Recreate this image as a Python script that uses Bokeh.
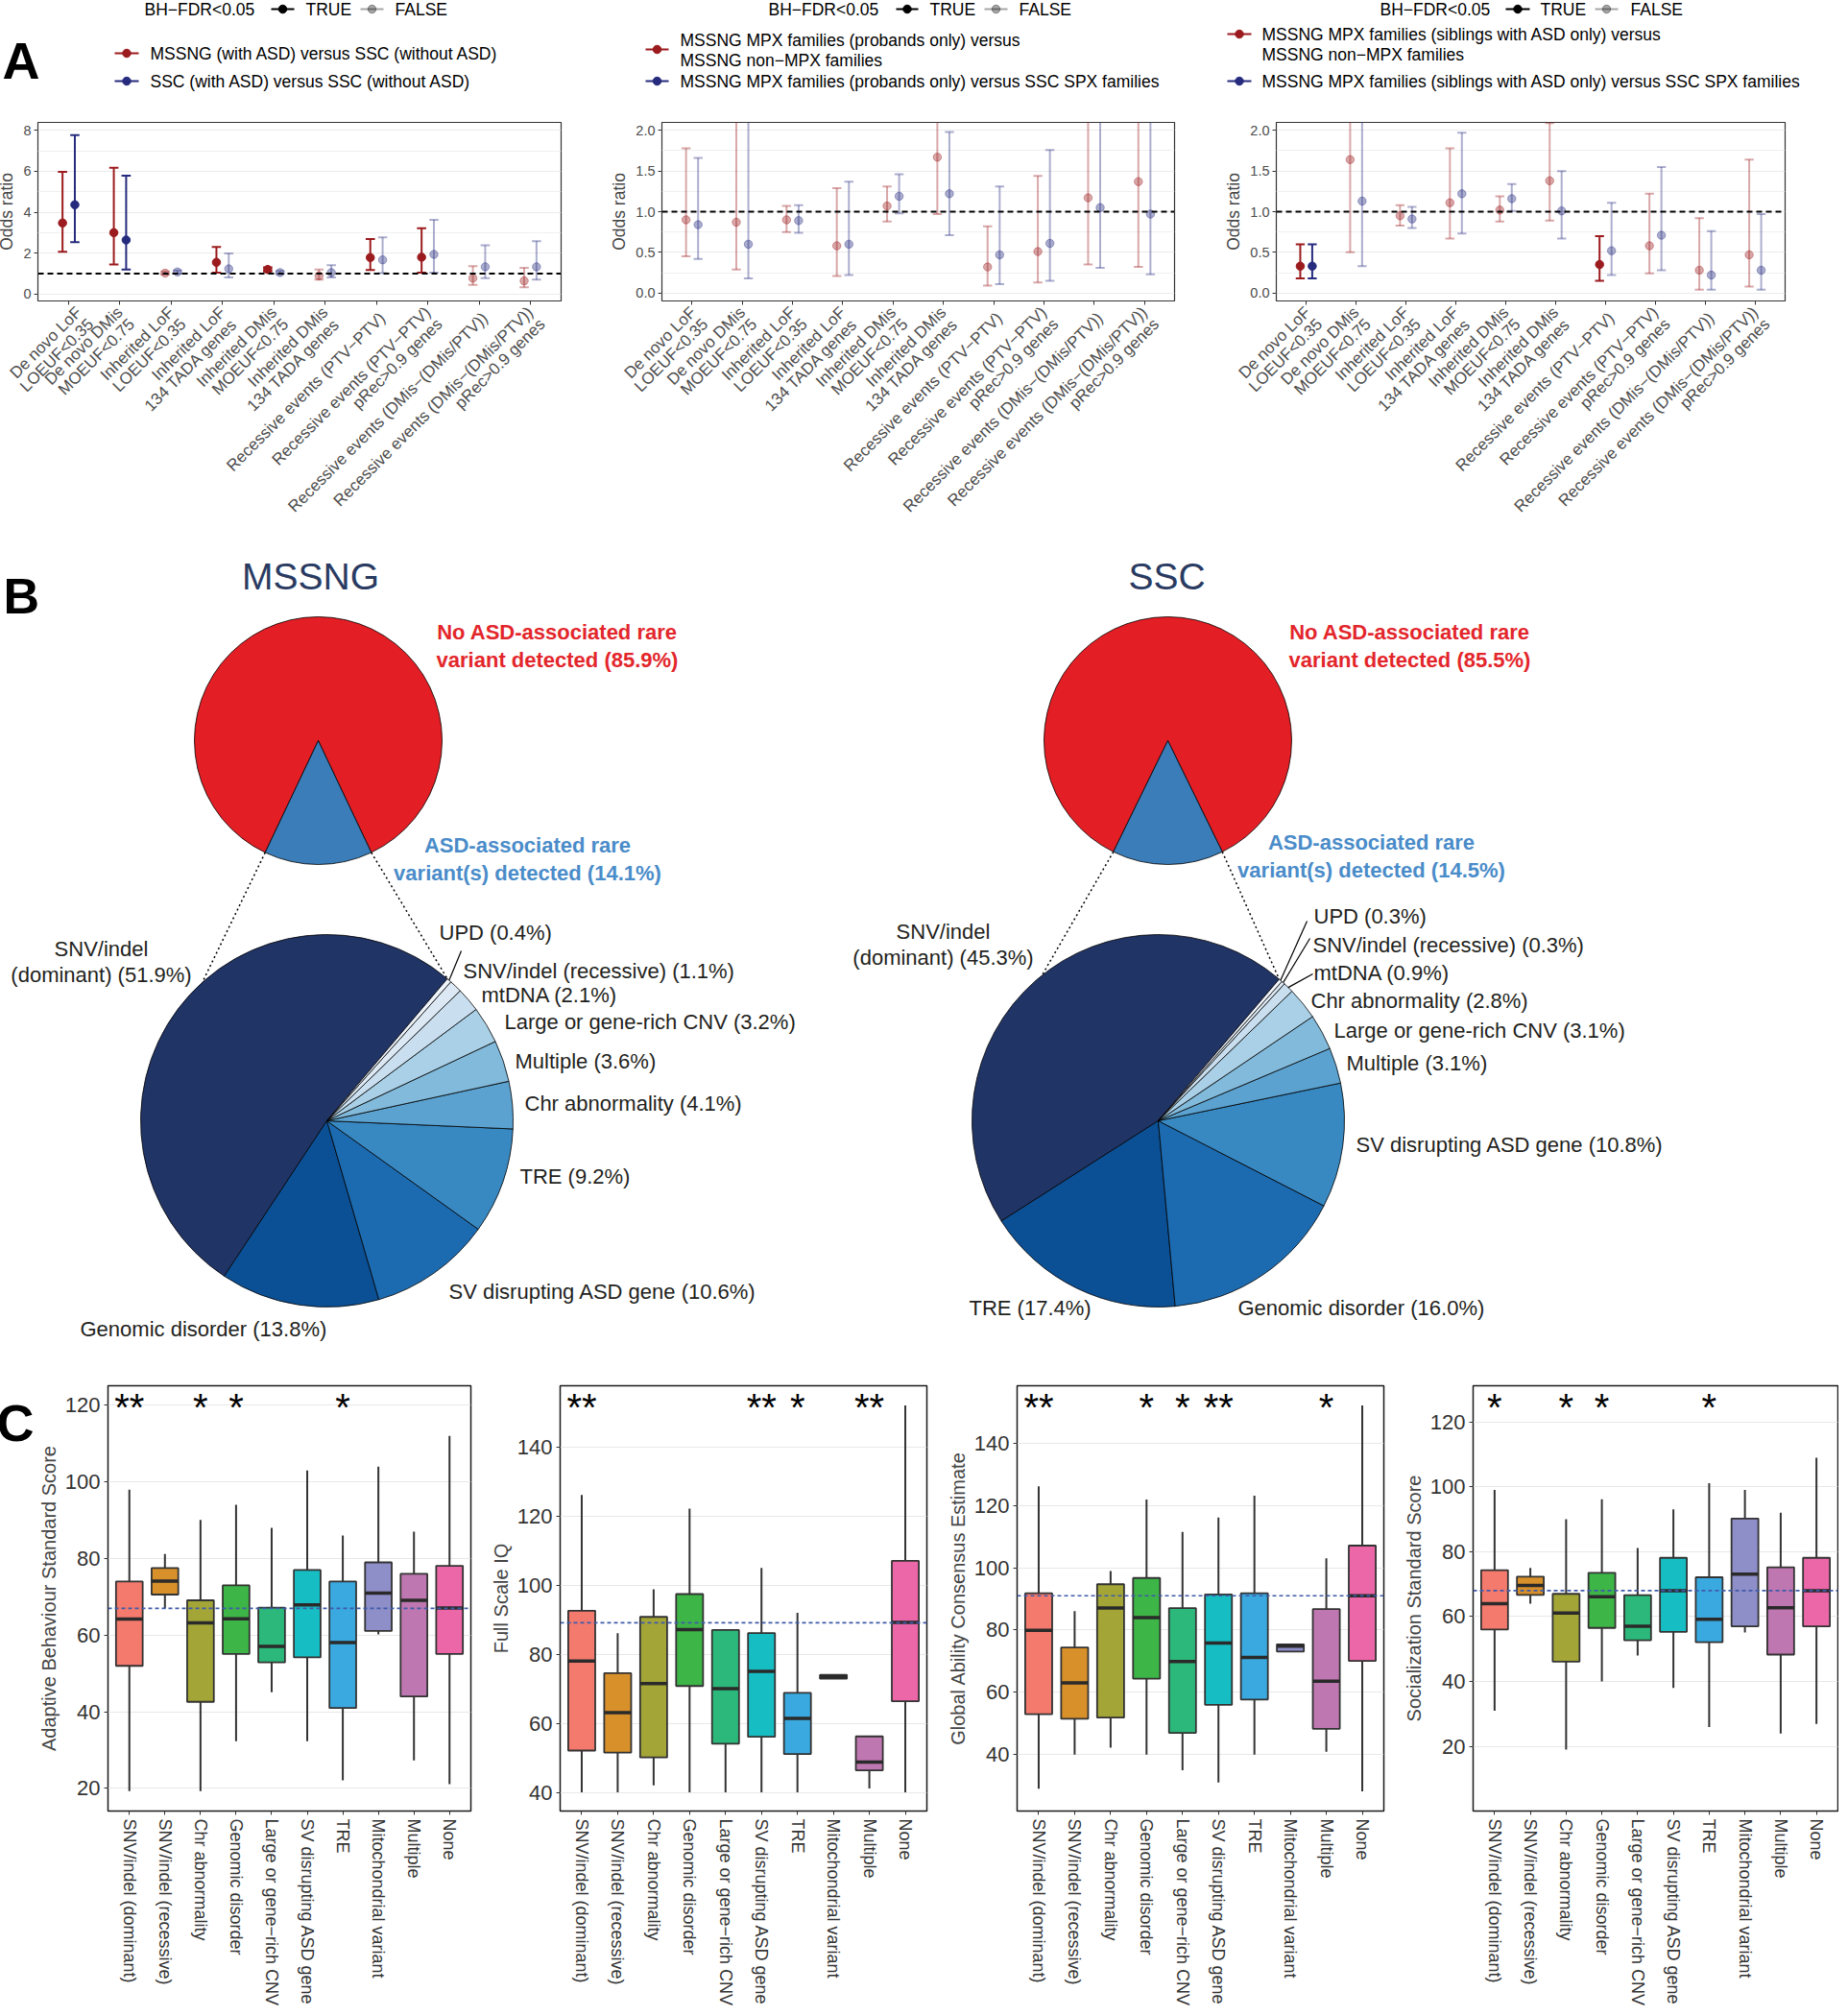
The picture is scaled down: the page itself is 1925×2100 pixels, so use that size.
import math
from bokeh.plotting import figure
from bokeh.layouts import row, column
from bokeh.models import Range1d, FixedTicker, Span, ColumnDataSource, NumeralTickFormatter
from bokeh.core.properties import value
from bokeh.embed import file_html
from bokeh.resources import INLINE

FONT = "Liberation Sans"
INK = "#231F20"
RED = "#9B1B1E"
BLUE = "#262B7D"

# ======================= Panel A data =======================
a_categories = [
    "De novo LoF\nLOEUF<0.35",
    "De novo DMis\nMOEUF<0.75",
    "Inherited LoF\nLOEUF<0.35",
    "Inherited LoF\n134 TADA genes",
    "Inherited DMis\nMOEUF<0.75",
    "Inherited DMis\n134 TADA genes",
    "Recessive events (PTV\u2212PTV)",
    "Recessive events (PTV\u2212PTV)\npRec>0.9 genes",
    "Recessive events (DMis\u2212(DMis/PTV))",
    "Recessive events (DMis\u2212(DMis/PTV))\npRec>0.9 genes",
]
a_legend_title = "BH\u2212FDR<0.05"
a_sig_levels = ["TRUE", "FALSE"]

a1_series = ["MSSNG (with ASD) versus SSC (without ASD)",
             "SSC (with ASD) versus SSC (without ASD)"]
a1_red_or = [3.47, 3.00, 1.02, 1.55, 1.20, 0.89, 1.78, 1.80, 0.77, 0.64]
a1_red_lo = [2.06, 1.44, 0.95, 1.05, 1.10, 0.70, 1.17, 1.05, 0.45, 0.33]
a1_red_hi = [5.97, 6.17, 1.10, 2.30, 1.30, 1.20, 2.69, 3.22, 1.36, 1.28]
a1_red_sig = [True, True, False, True, True, False, True, True, False, False]
a1_blue_or = [4.36, 2.64, 1.08, 1.23, 1.05, 1.05, 1.67, 1.94, 1.33, 1.33]
a1_blue_lo = [2.53, 1.20, 1.00, 0.81, 0.98, 0.81, 1.02, 1.05, 0.77, 0.70]
a1_blue_hi = [7.77, 5.78, 1.15, 1.98, 1.13, 1.41, 2.77, 3.63, 2.38, 2.58]
a1_blue_sig = [True, True, False, False, False, False, False, False, False, False]

a2_series = ["MSSNG MPX families (probands only) versus\nMSSNG non\u2212MPX families",
             "MSSNG MPX families (probands only) versus SSC SPX families"]
a2_red_or = [0.90, 0.87, 0.90, 0.58, 1.07, 1.67, 0.32, 0.51, 1.17, 1.37]
a2_red_lo = [0.45, 0.29, 0.75, 0.21, 0.88, 0.97, 0.09, 0.13, 0.35, 0.32]
a2_red_hi = [1.78, 2.60, 1.07, 1.29, 1.31, 2.40, 0.82, 1.44, 3.10, 3.50]
a2_red_sig = [False] * 10
a2_blue_or = [0.84, 0.60, 0.89, 0.60, 1.19, 1.22, 0.47, 0.61, 1.05, 0.97]
a2_blue_lo = [0.42, 0.18, 0.74, 0.22, 0.98, 0.71, 0.11, 0.15, 0.31, 0.23]
a2_blue_hi = [1.66, 2.90, 1.08, 1.37, 1.46, 1.98, 1.31, 1.76, 2.80, 3.20]
a2_blue_sig = [False] * 10

a3_series = ["MSSNG MPX families (siblings with ASD only) versus\nMSSNG non\u2212MPX families",
             "MSSNG MPX families (siblings with ASD only) versus SSC SPX families"]
a3_red_or = [0.33, 1.64, 0.95, 1.11, 1.02, 1.38, 0.35, 0.58, 0.28, 0.47]
a3_red_lo = [0.18, 0.50, 0.83, 0.67, 0.88, 0.89, 0.15, 0.24, 0.04, 0.08]
a3_red_hi = [0.60, 2.70, 1.08, 1.78, 1.19, 2.09, 0.70, 1.22, 0.92, 1.64]
a3_red_sig = [True, False, False, False, False, False, True, False, False, False]
a3_blue_or = [0.33, 1.13, 0.91, 1.22, 1.16, 1.01, 0.52, 0.71, 0.22, 0.28]
a3_blue_lo = [0.18, 0.33, 0.80, 0.73, 1.01, 0.67, 0.22, 0.28, 0.04, 0.04]
a3_blue_hi = [0.60, 3.00, 1.06, 1.97, 1.34, 1.50, 1.11, 1.55, 0.76, 0.97]
a3_blue_sig = [True, False, False, False, False, False, False, False, False, False]

# ======================= Panel B data =======================
b_cohorts = ["MSSNG", "SSC"]
b_top_labels = ["No ASD-associated rare\nvariant detected", "ASD-associated rare\nvariant(s) detected"]
mssng_top = [85.9, 14.1]
ssc_top = [85.5, 14.5]
mssng_classes = ["SNV/indel (dominant)", "Genomic disorder", "SV disrupting ASD gene", "TRE",
                 "Chr abnormality", "Multiple", "Large or gene-rich CNV", "mtDNA",
                 "SNV/indel (recessive)", "UPD"]
mssng_pct = [51.9, 13.8, 10.6, 9.2, 4.1, 3.6, 3.2, 2.1, 1.1, 0.4]
ssc_classes = ["SNV/indel (dominant)", "TRE", "Genomic disorder", "SV disrupting ASD gene",
               "Multiple", "Large or gene-rich CNV", "Chr abnormality", "mtDNA",
               "SNV/indel (recessive)", "UPD"]
ssc_pct = [45.3, 17.4, 16.0, 10.8, 3.1, 3.1, 2.8, 0.9, 0.3, 0.3]

# ======================= Panel C data =======================
c_categories = ["SNV/indel (dominant)", "SNV/indel (recessive)", "Chr abnormality",
                "Genomic disorder", "Large or gene\u2212rich CNV", "SV disrupting ASD gene",
                "TRE", "Mitochondrial variant", "Multiple", "None"]
c_titles = ["Adaptive Behaviour Standard Score", "Full Scale IQ",
            "Global Ability Consensus Estimate", "Socialization Standard Score"]

c1_low = [19.3, 67.0, 19.3, 32.3, 45.1, 32.3, 22.1, 60.2, 27.3, 21.1]
c1_q1 = [52.0, 70.6, 42.6, 55.1, 52.9, 54.2, 41.0, 61.1, 44.0, 55.1]
c1_med = [64.2, 74.1, 63.2, 64.3, 57.1, 67.9, 58.1, 71.0, 69.1, 67.1]
c1_q3 = [74.0, 77.5, 69.1, 73.0, 67.2, 77.0, 74.0, 79.0, 76.0, 78.1]
c1_high = [98.0, 81.2, 90.1, 94.0, 88.0, 103.0, 86.0, 104.0, 87.0, 112.0]
c1_ref = 67.0
c1_stars = ["**", "", "*", "*", "", "", "*", "", "", ""]

c2_low = [40.1, 40.1, 42.1, 40.1, 40.1, 40.1, 40.1, 73.0, 41.2, 40.1]
c2_q1 = [52.2, 51.6, 50.2, 70.9, 54.2, 56.2, 51.2, 73.0, 46.5, 66.5]
c2_med = [78.1, 63.2, 71.6, 87.2, 70.1, 75.1, 61.5, 73.6, 48.9, 89.3]
c2_q3 = [92.7, 74.6, 90.9, 97.5, 87.1, 86.2, 68.9, 74.1, 56.3, 107.1]
c2_high = [126.2, 86.2, 98.9, 122.2, 87.1, 105.1, 92.1, 74.1, 56.3, 152.1]
c2_ref = 89.2
c2_stars = ["**", "", "", "", "", "**", "*", "", "**", ""]

c3_low = [29.1, 40.0, 42.2, 40.0, 35.0, 31.1, 40.0, 73.1, 40.9, 28.2]
c3_q1 = [53.0, 51.5, 51.9, 64.4, 47.0, 56.0, 57.7, 73.1, 48.3, 70.1]
c3_med = [79.9, 63.0, 87.1, 84.0, 69.9, 75.8, 71.2, 74.8, 63.6, 91.0]
c3_q3 = [91.8, 74.4, 94.7, 96.7, 87.0, 91.4, 91.8, 75.4, 86.7, 107.1]
c3_high = [126.1, 86.1, 98.9, 121.9, 111.5, 116.1, 123.1, 75.6, 103.0, 152.1]
c3_ref = 91.0
c3_stars = ["**", "", "", "*", "*", "**", "", "", "*", ""]

c4_low = [31.0, 64.0, 19.0, 40.0, 48.0, 38.0, 26.0, 55.1, 24.0, 26.9]
c4_q1 = [56.0, 66.7, 46.1, 56.5, 52.7, 55.3, 52.1, 57.0, 48.3, 57.0]
c4_med = [64.0, 69.6, 61.1, 66.1, 57.0, 68.0, 59.2, 73.1, 62.7, 68.0]
c4_q3 = [74.3, 72.3, 67.0, 73.5, 66.6, 78.1, 72.1, 90.2, 75.2, 78.1]
c4_high = [99.0, 75.0, 90.0, 96.1, 81.1, 93.0, 101.1, 99.0, 92.0, 108.9]
c4_ref = 68.0
c4_stars = ["*", "", "*", "*", "", "", "*", "", "", ""]

# ======================= styles =======================
c_colors = ["#F47A6E", "#D8902A", "#A3A537", "#3EB547", "#2CB87A",
            "#16BEC4", "#3AA9E0", "#8E8EC8", "#BE77B0", "#EC67A8"]
b_blues = ["#213466", "#0B4F94", "#1C6BB0", "#3888C2", "#5BA2D0",
           "#82BADB", "#A9D0E6", "#C9DFF0", "#DCE9F5", "#EEF4FB"]


def canvas(w, h, y_top):
    p = figure(width=w, height=h, x_range=Range1d(0, w), y_range=Range1d(y_top + h, y_top),
               x_axis_location=None, y_axis_location=None, min_border=0,
               toolbar_location=None, output_backend="svg")
    p.grid.visible = False
    p.outline_line_color = None
    return p


def txt(p, x, y, s, size, color="black", align="left", baseline="middle", style="normal"):
    p.text(x=[x], y=[y], text=[s], text_font=value(FONT), text_font_size=size,
           text_color=color, text_align=align, text_baseline=baseline, text_font_style=style)


# ======================= Legend strip (panel A keys) =======================
leg = canvas(1925, 100, 0)
txt(leg, 10, 62, "A", "54px", baseline="alphabetic", style="bold")
legend_layout = [
    dict(title_x=158, tseg=(290, 314), tx=326, fseg=(383, 407), fx=419,
         key=(127, 152), red_y=55, red_lines=[55], blue_y=84, text_x=164),
    dict(title_x=808, tseg=(941, 964), tx=976, fseg=(1033, 1057), fx=1069,
         key=(680, 704), red_y=51, red_lines=[41, 62], blue_y=84, text_x=716),
    dict(title_x=1445, tseg=(1576, 1601), tx=1612, fseg=(1669, 1693), fx=1706,
         key=(1286, 1311), red_y=35, red_lines=[35, 56], blue_y=84, text_x=1322),
]
for lay, names in zip(legend_layout, [a1_series, a2_series, a3_series]):
    txt(leg, lay["title_x"], 9, a_legend_title, "17.5px")
    for (x0, x1), tx, lab, alpha in ((lay["tseg"], lay["tx"], a_sig_levels[0], 1.0),
                                    (lay["fseg"], lay["fx"], a_sig_levels[1], 0.35)):
        leg.segment([x0], [9], [x1], [9], line_color="black", line_alpha=alpha, line_width=2)
        leg.scatter([(x0 + x1) / 2], [9], size=8.5, color="black", alpha=alpha)
        txt(leg, tx, 9, lab, "17.5px")
    k0, k1 = lay["key"]
    for col, ky in ((RED, lay["red_y"]), (BLUE, lay["blue_y"])):
        leg.segment([k0], [ky], [k1], [ky], line_color=col, line_width=2)
        leg.scatter([(k0 + k1) / 2], [ky], size=8.5, color=col)
    for line, ly in zip(names[0].split("\n"), lay["red_lines"]):
        txt(leg, lay["text_x"], ly, line, "17.5px")
    txt(leg, lay["text_x"], lay["blue_y"], names[1], "17.5px")


# ======================= Panel A plots =======================
def or_panel(width, left, right, yr, yticks, minor, red, blue, decimals):
    p = figure(width=width, height=475, min_border_left=left, min_border_right=right,
               min_border_top=27, min_border_bottom=262, x_range=Range1d(0.4, 10.6),
               y_range=Range1d(*yr), toolbar_location=None, output_backend="svg")
    for series, col, off in ((red, RED, -0.12), (blue, BLUE, 0.12)):
        o, lo, hi, sig = series
        xs = [i + 1 + off for i in range(len(o))]
        src = ColumnDataSource(dict(x=xs, o=o, lo=lo, hi=hi,
                                    a=[1.0 if s else 0.38 for s in sig],
                                    x0=[x - 0.09 for x in xs], x1=[x + 0.09 for x in xs]))
        p.segment("x", "lo", "x", "hi", source=src, line_color=col, line_alpha="a", line_width=2)
        p.segment("x0", "lo", "x1", "lo", source=src, line_color=col, line_alpha="a", line_width=2)
        p.segment("x0", "hi", "x1", "hi", source=src, line_color=col, line_alpha="a", line_width=2)
        p.scatter("x", "o", source=src, size=8.5, fill_color=col, line_color=col,
                  fill_alpha="a", line_alpha="a")
    p.add_layout(Span(location=1, dimension="width", line_color="black",
                      line_dash="6 4", line_width=2))
    p.yaxis.ticker = FixedTicker(ticks=yticks, minor_ticks=minor)
    if decimals:
        p.yaxis.formatter = NumeralTickFormatter(format="0.0")
    p.xaxis.ticker = FixedTicker(ticks=list(range(1, 11)))
    # a leading empty line hangs each rotated label below its tick, as ggplot's vjust=1 does
    p.xaxis.major_label_overrides = {i + 1: "\n" + c for i, c in enumerate(a_categories)}
    p.xaxis.major_label_orientation = math.pi / 4
    p.xaxis.major_label_text_font_size = "17px"
    p.xaxis.major_label_text_line_height = 0.92
    p.yaxis.major_label_text_font_size = "14.5px"
    p.axis.major_label_text_font = FONT
    p.axis.major_label_text_color = "#4D4D4D"
    p.axis.axis_line_color = None
    p.axis.major_tick_line_color = "#333333"
    p.axis.major_tick_out = 4
    p.axis.major_tick_in = 0
    p.axis.minor_tick_line_color = None
    p.xaxis.major_label_standoff = 5
    p.yaxis.major_label_standoff = 3
    p.yaxis.axis_label = "Odds ratio"
    p.yaxis.axis_label_text_font = FONT
    p.yaxis.axis_label_text_font_style = "normal"
    p.yaxis.axis_label_text_font_size = "17.5px"
    p.yaxis.axis_label_standoff = 4
    p.xgrid.visible = False
    p.ygrid.grid_line_color = "#EBEBEB"
    p.ygrid.minor_grid_line_color = "#F0F0F0"
    p.outline_line_color = "#333333"
    p.outline_line_width = 1.2
    return p


a1 = or_panel(640, 47, 48, (-0.34, 8.39), [0, 2, 4, 6, 8], [1, 3, 5, 7],
              (a1_red_or, a1_red_lo, a1_red_hi, a1_red_sig),
              (a1_blue_or, a1_blue_lo, a1_blue_hi, a1_blue_sig), False)
a2 = or_panel(640, 57, 49, (-0.098, 2.098), [0, 0.5, 1, 1.5, 2], [0.25, 0.75, 1.25, 1.75],
              (a2_red_or, a2_red_lo, a2_red_hi, a2_red_sig),
              (a2_blue_or, a2_blue_lo, a2_blue_hi, a2_blue_sig), True)
a3 = or_panel(645, 53, 58, (-0.098, 2.098), [0, 0.5, 1, 1.5, 2], [0.25, 0.75, 1.25, 1.75],
              (a3_red_or, a3_red_lo, a3_red_hi, a3_red_sig),
              (a3_blue_or, a3_blue_lo, a3_blue_hi, a3_blue_sig), True)

# ======================= Panel B =======================
pb = canvas(1925, 855, 575)
txt(pb, 11, 620, "B", "52px", baseline="alphabetic", style="bold")

pie_layout = [
    dict(title=(331, 600), top=(339, 771, 129), bot=(348, 1167, 194), start=49.7,
         red_lab=(588, 658, 687), blue_lab=(557, 880, 909), dot_left=132.0,
         labels={
             "SNV/indel (dominant)": (113, 988, "center"),
             "UPD": (465, 971, "left"),
             "SNV/indel (recessive)": (490, 1011, "left"),
             "mtDNA": (509, 1036, "left"),
             "Large or gene-rich CNV": (533, 1064, "left"),
             "Multiple": (544, 1105, "left"),
             "Chr abnormality": (554, 1149, "left"),
             "TRE": (549, 1225, "left"),
             "SV disrupting ASD gene": (475, 1345, "left"),
             "Genomic disorder": (91, 1384, "left"),
         },
         leaders={"UPD": (488, 990)}),
    dict(title=(1223, 600), top=(1224, 771, 129), bot=(1214, 1167, 194), start=49.5,
         red_lab=(1476, 658, 687), blue_lab=(1436, 877, 906), dot_left=128.6,
         labels={
             "SNV/indel (dominant)": (990, 970, "center"),
             "UPD": (1376, 954, "left"),
             "SNV/indel (recessive)": (1375, 984, "left"),
             "mtDNA": (1376, 1013, "left"),
             "Chr abnormality": (1373, 1042, "left"),
             "Large or gene-rich CNV": (1397, 1073, "left"),
             "Multiple": (1410, 1107, "left"),
             "SV disrupting ASD gene": (1420, 1192, "left"),
             "Genomic disorder": (1297, 1362, "left"),
             "TRE": (1017, 1362, "left"),
         },
         leaders={"UPD": (1369, 959), "SNV/indel (recessive)": (1372, 977),
                  "mtDNA": (1375, 1014)}),
]


def pt(cx, cy, r, deg):
    return cx + r * math.cos(math.radians(deg)), cy - r * math.sin(math.radians(deg))


for name, lay, top, classes, pcts in zip(b_cohorts, pie_layout, [mssng_top, ssc_top],
                                         [mssng_classes, ssc_classes], [mssng_pct, ssc_pct]):
    txt(pb, lay["title"][0], lay["title"][1], name, "39px", color="#2A3B62", align="center")
    tx, ty, tr = lay["top"]
    half = top[1] / sum(top) * 180.0
    a0, a1_ = 270 - half, 270 + half
    pb.wedge(x=[tx, tx], y=[ty, ty], radius=tr,
             start_angle=[math.radians(a1_), math.radians(a0)],
             end_angle=[math.radians(a0 + 360), math.radians(a1_)],
             direction="anticlock", fill_color=["#E31E24", "#3A7DB9"],
             line_color="black", line_width=0.8)
    rl = lay["red_lab"]
    l1, l2 = b_top_labels[0].split("\n")
    txt(pb, rl[0], rl[1], l1, "22px", color="#E3262B", align="center", style="bold")
    txt(pb, rl[0], rl[2], f"{l2} ({top[0]:.1f}%)", "22px", color="#E3262B", align="center", style="bold")
    bl = lay["blue_lab"]
    l1, l2 = b_top_labels[1].split("\n")
    txt(pb, bl[0], bl[1], l1, "22px", color="#4A8CC9", align="center", style="bold")
    txt(pb, bl[0], bl[2], f"{l2} ({top[1]:.1f}%)", "22px", color="#4A8CC9", align="center", style="bold")

    bx, by, br = lay["bot"]
    tot = sum(pcts)
    starts, ends, mids = [], [], []
    a = lay["start"]
    for v in pcts:
        e = a + v / tot * 360.0
        starts.append(math.radians(a))
        ends.append(math.radians(e))
        mids.append((a + e) / 2)
        a = e
    pb.wedge(x=[bx] * len(pcts), y=[by] * len(pcts), radius=br, start_angle=starts,
             end_angle=ends, direction="anticlock", fill_color=b_blues[:len(pcts)],
             line_color="black", line_width=0.8)

    p_l = pt(tx, ty, tr, a0)
    p_r = pt(tx, ty, tr, a1_)
    q_l = pt(bx, by, br, lay["dot_left"])
    q_r = pt(bx, by, br, lay["start"])
    pb.segment([p_l[0], p_r[0]], [p_l[1], p_r[1]], [q_l[0], q_r[0]], [q_l[1], q_r[1]],
               line_color="black", line_dash="2 3", line_width=1.5)

    for cls, v, m in zip(classes, pcts, mids):
        x, y, al = lay["labels"][cls]
        label = f"{cls} ({v:.1f}%)"
        if cls == "SNV/indel (dominant)":
            first, rest = label.split(" ", 1)
            txt(pb, x, y, first, "22px", color=INK, align=al)
            txt(pb, x, y + 27, rest, "22px", color=INK, align=al)
        else:
            txt(pb, x, y, label, "22px", color=INK, align=al)
        if cls in lay["leaders"]:
            ex, ey = lay["leaders"][cls]
            sx, sy = pt(bx, by, br, m)
            pb.segment([sx], [sy], [ex], [ey], line_color="black", line_width=1.2)


# ======================= Panel C =======================
def box_panel(width, left, right, low, q1, med, q3, high, refv, stars, yr, yticks, title):
    fh = 444
    p = figure(width=width, height=662, min_border_left=left, min_border_right=right,
               min_border_top=13, min_border_bottom=205, x_range=Range1d(0.4, 10.6),
               y_range=Range1d(*yr), toolbar_location=None, output_backend="svg")
    xs = list(range(1, len(low) + 1))
    hw = 0.375
    p.segment(xs, q3, xs, high, line_color="#333333", line_width=2)
    p.segment(xs, low, xs, q1, line_color="#333333", line_width=2)
    p.vbar(x=xs, bottom=q1, top=q3, width=2 * hw, fill_color=c_colors,
           line_color="#333333", line_width=1.8)
    p.segment([x - hw for x in xs], med, [x + hw for x in xs], med,
              line_color="#2A2A2A", line_width=3.5)
    p.add_layout(Span(location=refv, dimension="width", line_color="#3F5BA9",
                      line_dash="4 3", line_width=1.6))
    ystar = yr[1] - 1 * (yr[1] - yr[0]) / fh
    p.text(x=xs, y=[ystar] * len(xs), text=stars, text_align="center", text_baseline="top",
           text_font=value(FONT), text_font_size="40px", text_color="black")
    p.yaxis.ticker = FixedTicker(ticks=yticks)
    p.xaxis.ticker = FixedTicker(ticks=xs)
    p.xaxis.major_label_overrides = {i + 1: c for i, c in enumerate(c_categories)}
    p.xaxis.major_label_orientation = "vertical"
    p.xaxis.major_label_text_font_size = "18px"
    p.yaxis.major_label_text_font_size = "22px"
    p.axis.major_label_text_font = FONT
    p.axis.major_label_text_color = "#333333"
    p.axis.axis_line_color = None
    p.axis.major_tick_line_color = "#333333"
    p.axis.major_tick_out = 4
    p.axis.major_tick_in = 0
    p.axis.minor_tick_line_color = None
    p.axis.major_label_standoff = 4
    p.yaxis.axis_label = title
    p.yaxis.axis_label_text_font = FONT
    p.yaxis.axis_label_text_font_style = "normal"
    p.yaxis.axis_label_text_font_size = "20px"
    p.yaxis.axis_label_standoff = 3
    p.xgrid.visible = False
    p.ygrid.grid_line_color = "#E8E8E8"
    p.outline_line_color = "#1A1A1A"
    p.outline_line_width = 1.5
    return p


cl = canvas(44, 662, 1430)
txt(cl, 4, 1488, "C", "54px", baseline="alphabetic", style="bold")
c1 = box_panel(464, 72, 10, c1_low, c1_q1, c1_med, c1_q3, c1_high, c1_ref, c1_stars,
               (14.1, 125.1), [20, 40, 60, 80, 100, 120], c_titles[0])
c2 = box_panel(477, 83, 12, c2_low, c2_q1, c2_med, c2_q3, c2_high, c2_ref, c2_stars,
               (34.7, 157.8), [40, 60, 80, 100, 120, 140], c_titles[1])
c3 = box_panel(477, 82, 13, c3_low, c3_q1, c3_med, c3_q3, c3_high, c3_ref, c3_stars,
               (21.9, 158.4), [40, 60, 80, 100, 120, 140], c_titles[2])
c4 = box_panel(461, 80, 1, c4_low, c4_q1, c4_med, c4_q3, c4_high, c4_ref, c4_stars,
               (0.1, 131.1), [20, 40, 60, 80, 100, 120], c_titles[3])

root = column(leg, row(a1, a2, a3), pb, row(cl, c1, c2, c3, c4), margin=(0, 0, 0, -8))
open("out.html", "w").write(file_html(root, INLINE))
